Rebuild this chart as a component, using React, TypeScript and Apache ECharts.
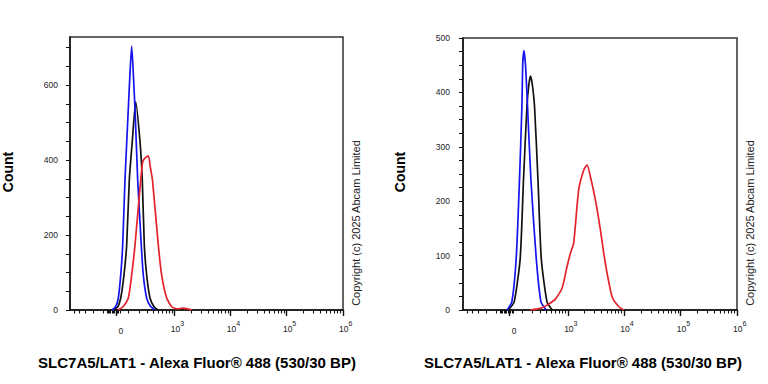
import React, { useEffect, useRef } from 'react';
import * as echarts from 'echarts';

// Logicle-like display transform (decades), width parameter
const WIDTH_PARAM = 184;
const toDisplay = (v: number) => Math.asinh(v / WIDTH_PARAM) / Math.LN10;

// X axis range (fluorescence units)
const X_MIN_VALUE = -592;
const X_MAX_VALUE = 1.01e6;

// Tick values (fluorescence units)
const majorTickValues = [0, 1e3, 1e4, 1e5, 1e6];
const majorTickLabels = ['{z|0}', '{n|10}{s|3}', '{n|10}{s|4}', '{n|10}{s|5}', '{n|10}{s|6}'];
const minorTickValues = [
  -500, -400, -300, -200, -100,
  -70, -60, -50, -40, -30, -20, -10, 10, 20, 30,
  100, 200, 300, 400, 500, 600, 700, 800, 900,
  2000, 3000, 4000, 5000, 6000, 7000, 8000, 9000,
  20000, 30000, 40000, 50000, 60000, 70000, 80000, 90000,
  200000, 300000, 400000, 500000, 600000, 700000, 800000, 900000,
];

// Y axes
const leftYMax = 728;
const leftYTicks = [0, 50, 100, 150, 200, 250, 300, 350, 400, 450, 500, 550, 600, 650, 700];
const leftYLabels = [0, 200, 400, 600];
const rightYMax = 500;
const rightYTicks = [0, 25, 50, 75, 100, 125, 150, 175, 200, 225, 250, 275, 300, 325, 350, 375, 400, 425, 450, 475, 500];
const rightYLabels = [0, 100, 200, 300, 400, 500];

// Histogram data: x in display units (decades of the transformed axis), y = count
const leftBlueX = [-0.071, -0.009, 0.041, 0.084, 0.119, 0.160, 0.214, 0.249, 0.279, 0.308, 0.343, 0.386, 0.450, 0.486, 0.546, 0.614, 0.694];
const leftBlueY = [0, 8, 32, 93, 173, 347, 520, 631, 704, 631, 520, 347, 173, 93, 32, 10, 0];
const leftBlackX = [-0.053, 0.030, 0.084, 0.142, 0.190, 0.237, 0.290, 0.351, 0.427, 0.468, 0.504, 0.546, 0.605, 0.680, 0.747];
const leftBlackY = [0, 8, 32, 93, 173, 347, 450, 555, 450, 347, 173, 93, 32, 8, 0];
const leftRedX = [0.036, 0.120, 0.219, 0.279, 0.338, 0.440, 0.475, 0.516, 0.575, 0.610, 0.649, 0.753, 0.813, 0.902, 0.996, 1.103, 1.190, 1.352];
const leftRedY = [0, 8, 32, 93, 173, 347, 395, 405, 411, 382, 347, 173, 93, 32, 8, 3, 5, 0];

const rightBlueX = [-0.036, 0.048, 0.125, 0.183, 0.226, 0.240, 0.262, 0.290, 0.326, 0.386, 0.480, 0.564, 0.658];
const rightBlueY = [0, 15, 95, 239, 374, 450, 477, 450, 374, 239, 95, 15, 0];
const rightBlackX = [-0.018, 0.089, 0.196, 0.254, 0.315, 0.350, 0.379, 0.410, 0.450, 0.511, 0.569, 0.671, 0.765];
const rightBlackY = [0, 15, 95, 239, 374, 415, 430, 415, 374, 239, 95, 15, 0];
const rightRedX = [0.374, 0.552, 0.671, 0.819, 0.938, 1.027, 1.085, 1.144, 1.233, 1.322, 1.383, 1.441, 1.530, 1.619, 1.678, 1.738, 1.827, 1.945, 2.034];
const rightRedY = [0, 3, 9, 20, 40, 80, 104, 123, 221, 257, 267, 245, 202, 147, 104, 67, 24, 6, 0];

const xAxisTitle = 'SLC7A5/LAT1 - Alexa Fluor® 488 (530/30 BP)';
const yAxisTitle = 'Count';
const copyrightText = 'Copyright (c) 2025 Abcam Limited';

const COLORS = { blue: '#1414f0', black: '#111111', red: '#e3222a' };
const FONT = '"Liberation Sans", Arial, Helvetica, sans-serif';

const pairs = (xs: number[], ys: number[]) => xs.map((x, i) => [x, ys[i]]);

export default function App() {
  const ref = useRef<HTMLDivElement>(null);

  useEffect(() => {
    if (!ref.current) return;
    const chart = echarts.init(ref.current, null, { renderer: 'svg' });

    const xMin = toDisplay(X_MIN_VALUE);
    const xMax = toDisplay(X_MAX_VALUE);
    const majorPos = majorTickValues.map(toDisplay);
    const minorPos = minorTickValues.map(toDisplay);
    const labelFor = (v: number) => {
      let best = -1;
      let bestD = Infinity;
      majorPos.forEach((p, i) => {
        const d = Math.abs(p - v);
        if (d < bestD) { bestD = d; best = i; }
      });
      return best >= 0 && bestD < 1e-3 ? majorTickLabels[best] : '';
    };

    const axisColor = '#111';
    const labelRich = {
      z: { fontSize: 8.5, color: '#222', fontFamily: FONT, padding: [6, 0, 0, 10] },
      n: { fontSize: 8.5, color: '#222', fontFamily: FONT, verticalAlign: 'bottom', padding: [0, 0, 0, 6] },
      s: { fontSize: 7, color: '#222', fontFamily: FONT, verticalAlign: 'bottom', padding: [0, 0, 6, 0] },
    };

    const makeX = (gridIndex: number) => [
      {
        gridIndex,
        type: 'value',
        position: 'bottom',
        min: xMin,
        max: xMax,
        axisLine: { show: true, onZero: false, lineStyle: { color: axisColor, width: 1.5 } },
        axisTick: { show: true, customValues: majorPos, length: 6, lineStyle: { color: axisColor, width: 1.4 } },
        axisLabel: {
          show: true,
          customValues: majorPos,
          margin: 10,
          showMinLabel: true,
          showMaxLabel: true,
          hideOverlap: false,
          formatter: (v: number) => labelFor(v),
          rich: labelRich,
        },
        splitLine: { show: false },
      },
      {
        gridIndex,
        type: 'value',
        position: 'bottom',
        min: xMin,
        max: xMax,
        axisLine: { show: false, onZero: false },
        axisTick: { show: true, customValues: minorPos, length: 3.5, lineStyle: { color: axisColor, width: 1.1 } },
        axisLabel: { show: false },
        splitLine: { show: false },
      },
    ];

    const makeY = (gridIndex: number, max: number, ticks: number[], labels: number[], margin: number) => ({
      gridIndex,
      type: 'value',
      position: 'left',
      min: 0,
      max,
      axisLine: { show: true, onZero: false, lineStyle: { color: axisColor, width: 1.5 } },
      axisTick: { show: true, customValues: ticks, length: 4, lineStyle: { color: axisColor, width: 1 } },
      axisLabel: { show: true, customValues: labels, fontSize: 8.5, color: '#222', fontFamily: FONT, margin },
      splitLine: { show: false },
    });

    const line = (name: string, xAxisIndex: number, yAxisIndex: number, xs: number[], ys: number[], color: string) => ({
      name,
      type: 'line',
      xAxisIndex,
      yAxisIndex,
      data: pairs(xs, ys),
      showSymbol: false,
      smooth: 0.2,
      lineStyle: { color, width: 1.7 },
      itemStyle: { color },
      z: 3,
    });

    const titleStyle = { font: `bold 15px ${FONT}`, fill: '#000', align: 'center', verticalAlign: 'middle' };
    const countStyle = { font: `bold 14px ${FONT}`, fill: '#000', align: 'center', verticalAlign: 'middle' };
    const copyStyle = { font: `11px ${FONT}`, fill: '#222', align: 'center', verticalAlign: 'middle' };

    chart.setOption({
      animation: false,
      backgroundColor: '#ffffff',
      textStyle: { fontFamily: FONT },
      grid: [
        { left: 70, top: 37, width: 273, height: 273, show: true, borderColor: '#333', borderWidth: 1.5, backgroundColor: 'transparent' },
        { left: 463, top: 38, width: 274, height: 272, show: true, borderColor: '#333', borderWidth: 1.5, backgroundColor: 'transparent' },
      ],
      xAxis: [...makeX(0), ...makeX(1)],
      yAxis: [
        makeY(0, leftYMax, leftYTicks, leftYLabels, 12),
        makeY(1, rightYMax, rightYTicks, rightYLabels, 13),
      ],
      series: [
        line('Left black', 0, 0, leftBlackX, leftBlackY, COLORS.black),
        line('Left blue', 0, 0, leftBlueX, leftBlueY, COLORS.blue),
        line('Left red', 0, 0, leftRedX, leftRedY, COLORS.red),
        line('Right black', 2, 1, rightBlackX, rightBlackY, COLORS.black),
        line('Right blue', 2, 1, rightBlueX, rightBlueY, COLORS.blue),
        line('Right red', 2, 1, rightRedX, rightRedY, COLORS.red),
      ],
      graphic: [
        { type: 'text', x: 8, y: 172, rotation: Math.PI / 2, style: { ...countStyle, text: yAxisTitle } },
        { type: 'text', x: 400, y: 172, rotation: Math.PI / 2, style: { ...countStyle, text: yAxisTitle } },
        { type: 'text', x: 197, y: 362, style: { ...titleStyle, text: xAxisTitle } },
        { type: 'text', x: 583, y: 362, style: { ...titleStyle, text: xAxisTitle } },
        { type: 'text', x: 356, y: 223, rotation: Math.PI / 2, style: { ...copyStyle, text: copyrightText } },
        { type: 'text', x: 750, y: 223, rotation: Math.PI / 2, style: { ...copyStyle, text: copyrightText } },
      ],
    });

    return () => chart.dispose();
  }, []);

  return <div ref={ref} style={{ position: 'fixed', left: 0, top: 0, width: 768, height: 384, background: '#fff' }} />;
}
